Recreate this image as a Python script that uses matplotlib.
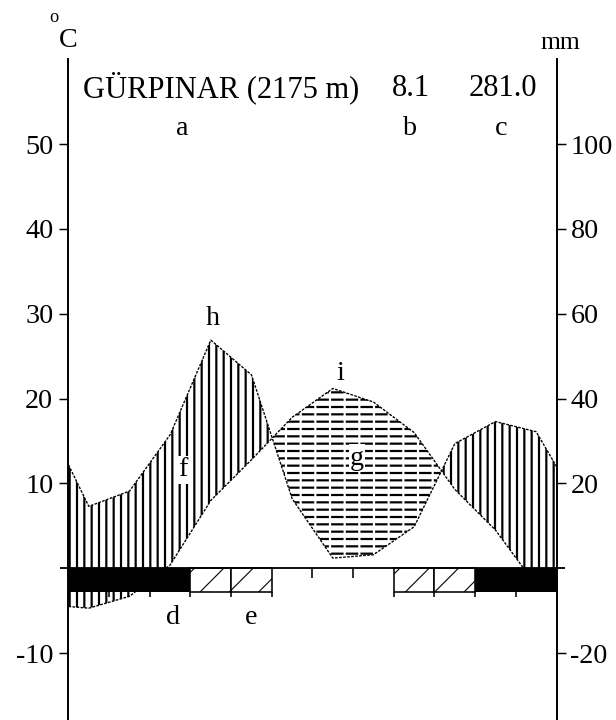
import numpy as np
import matplotlib
matplotlib.use("Agg")
import matplotlib.pyplot as plt

plt.rcParams['font.family'] = ['Liberation Serif', 'DejaVu Serif']
plt.rcParams['axes.unicode_minus'] = False

station = "GÜRPINAR (2175 m)"
mean_temp = "8.1"
total_prec = "281.0"

months = ["Jan", "Feb", "Mar", "Apr", "May", "Jun",
          "Jul", "Aug", "Sep", "Oct", "Nov", "Dec"]
temp = [-4.7, -3.3, 0.4, 8.0, 12.8, 17.8, 21.2, 19.6, 16.0, 9.3, 4.5, -2.0]   # °C
prec = [14.6, 18.2, 31.5, 53.8, 45.6, 16.4, 2.4, 3.2, 9.8, 29.4, 34.6, 32.2]  # mm
temp_edges = [-4.5, -2.6]     # curve values on the left / right axis
prec_edges = [24.4, 24.0]
# frost bar: 2 = black, 1 = hatched, 0 = none
frost = [2, 2, 2, 1, 1, 0, 0, 0, 1, 1, 2, 2]

left_ticks = [-10, 10, 20, 30, 40, 50]
right_ticks = [-20, 20, 40, 60, 80, 100]

dpi = 88
fig = plt.figure(figsize=(616 / dpi, 720 / dpi), dpi=dpi)
ax = fig.add_axes([0, 0, 1, 1])
ax.set_xlim(-1.684, 13.463)
ax.set_ylim(-17.88, 66.99)

x = np.concatenate([[0], np.arange(12) + 0.5, [12]])
t = np.array([temp_edges[0]] + temp + [temp_edges[1]])
p = np.array([prec_edges[0]] + prec + [prec_edges[1]]) / 2.0   # 10 °C = 20 mm


def hatch_lw(artist, lw):
    if hasattr(artist, 'set_hatch_linewidth'):
        artist.set_hatch_linewidth(lw)


plt.rcParams['hatch.linewidth'] = 1.8
# humid period: vertical hatching
humid = ax.fill_between(x, t, p, where=p >= t, interpolate=True, facecolor='none',
                        edgecolor='black', hatch='||', linewidth=0, zorder=2)
# dry period: dashed horizontal hatching
dry = ax.fill_between(x, p, t, where=t >= p, interpolate=True, facecolor='none',
                      edgecolor='black', hatch='--', linewidth=0, zorder=2)
gaps = ax.fill_between(x, p, t, where=t >= p, interpolate=True, facecolor='none',
                       edgecolor='white', hatch='|', linewidth=0, zorder=2.5)
for c in (humid, dry, gaps):
    hatch_lw(c, 1.8)

ax.plot(x, t, color='black', lw=1.1, ls=(0, (2, 1)), zorder=3)
ax.plot(x, p, color='black', lw=1.1, ls=(0, (2, 1)), zorder=3)

# frost bar under the zero line
mid = np.arange(12) + 0.5
frost = np.array(frost)
bar_h = -2.75
ax.bar(mid[frost == 2], bar_h, width=1.0, color='black', linewidth=0, zorder=4)
hb = ax.bar(mid[frost == 1], bar_h, width=1.0, facecolor='white',
            edgecolor='black', hatch='/', linewidth=1.3, zorder=4)
for r in hb:
    hatch_lw(r, 0.9)

# zero line and month ticks
ax.hlines(0, -0.2, 12.2, color='black', lw=1.5, zorder=5)
for k in range(1, 12):
    if frost[k - 1] or frost[k]:
        ax.vlines(k, bar_h, -3.4, color='black', lw=1.3, zorder=5)
    else:
        ax.vlines(k, 0, -1.2, color='black', lw=1.3, zorder=5)

# axes
for s in ['top', 'bottom', 'right']:
    ax.spines[s].set_visible(False)
ax.spines['left'].set_position(('data', 0))
ax.spines['left'].set_bounds(-17.88, 60)
ax.spines['left'].set_linewidth(1.6)
ax.spines['left'].set_zorder(6)
ax.set_xticks([])
ax.set_yticks(left_ticks)
ax.tick_params(axis='y', direction='out', length=7.4, width=1.2, pad=5,
               labelsize=23)

ax2 = ax.twinx()
ax2.set_ylim(2 * ax.get_ylim()[0], 2 * ax.get_ylim()[1])
for s in ['top', 'bottom', 'left']:
    ax2.spines[s].set_visible(False)
ax2.spines['right'].set_position(('data', 12))
ax2.spines['right'].set_bounds(2 * -17.88, 120)
ax2.spines['right'].set_linewidth(1.6)
ax2.set_yticks(right_ticks)
ax2.tick_params(axis='y', direction='out', length=7.4, width=1.2, pad=4,
                labelsize=23)

# unit labels
ax.text(-0.36, 64.9, "o", fontsize=15, ha='center', va='center')
ax.text(0.0, 62.2, "C", fontsize=23, ha='center', va='center')
ax.text(12.085, 61.9, "mm", fontsize=21, ha='center', va='center')

# header
ax.text(0.36, 56.6, station, fontsize=25, ha='left', va='center')
ax.text(8.41, 56.6, mean_temp, fontsize=25, ha='center', va='center')
ax.text(10.68, 56.6, total_prec, fontsize=25, ha='center', va='center')
ax.text(2.80, 51.8, "a", fontsize=23, ha='center', va='center')
ax.text(8.41, 51.8, "b", fontsize=23, ha='center', va='center')
ax.text(10.63, 51.8, "c", fontsize=23, ha='center', va='center')

# letters on the diagram
wbox = dict(facecolor='white', edgecolor='none', pad=1)
ax.text(3.55, 29.5, "h", fontsize=23, ha='center', va='center')
ax.text(6.68, 23.0, "i", fontsize=23, ha='center', va='center')
ax.text(2.82, 11.6, "f", fontsize=23, ha='center', va='center', bbox=wbox, zorder=7)
ax.text(7.09, 13.0, "g", fontsize=23, ha='center', va='center', bbox=wbox, zorder=7)
ax.text(2.57, -5.85, "d", fontsize=23, ha='center', va='center')
ax.text(4.50, -5.74, "e", fontsize=23, ha='center', va='center')

fig.savefig("out.png", dpi=dpi)
